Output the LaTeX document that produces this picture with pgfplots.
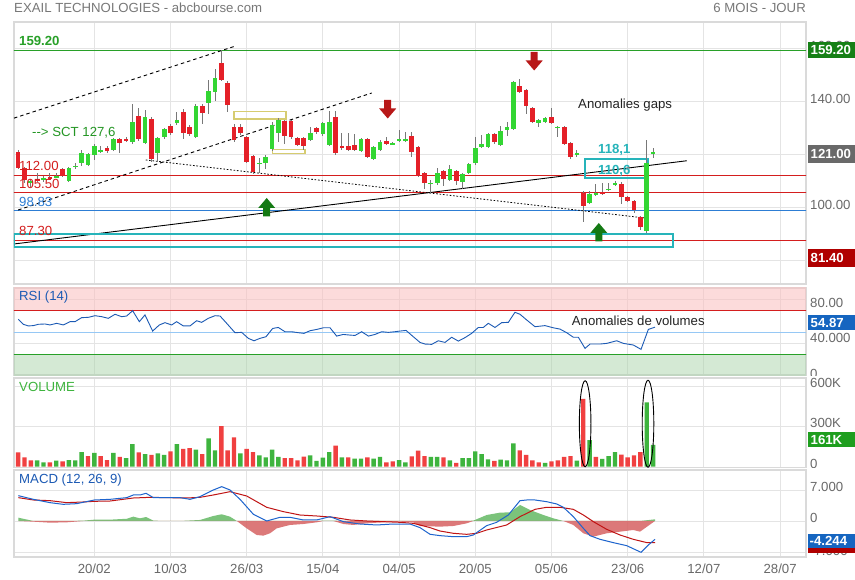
\documentclass[border=0pt]{standalone}
\usepackage{fontspec}
\setmainfont{Liberation Sans}
\usepackage{pgfplots}
\pgfplotsset{compat=1.18}
\usepackage{pgfplotstable}

\definecolor{cgreen}{RGB}{51,214,51}
\definecolor{cred}{RGB}{228,32,40}
\definecolor{wick}{RGB}{120,120,120}
\definecolor{vgreen}{RGB}{62,180,62}
\definecolor{vred}{RGB}{240,64,64}
\definecolor{gridc}{RGB}{228,228,228}
\definecolor{framec}{RGB}{218,218,218}
\definecolor{lblgray}{RGB}{105,105,105}
\definecolor{tealc}{RGB}{38,180,186}
\definecolor{khaki}{RGB}{214,204,112}
\definecolor{lgreen}{RGB}{40,160,40}
\definecolor{lred}{RGB}{212,30,30}
\definecolor{lblue}{RGB}{45,125,212}
\definecolor{midblue}{RGB}{150,200,245}
\definecolor{rsiblue}{RGB}{28,90,180}
\definecolor{pinkb}{RGB}{250,190,190}
\definecolor{greenb}{RGB}{170,212,170}
\definecolor{macdblue}{RGB}{30,100,205}
\definecolor{macdred}{RGB}{192,20,20}
\definecolor{histg}{RGB}{100,185,100}
\definecolor{histr}{RGB}{214,98,98}
\definecolor{boxgreen}{RGB}{22,128,22}
\definecolor{boxgray}{RGB}{105,105,105}
\definecolor{boxred}{RGB}{176,0,0}
\definecolor{boxblue}{RGB}{21,101,192}
\definecolor{boxvgreen}{RGB}{30,158,30}
\definecolor{arrred}{RGB}{184,24,24}
\definecolor{arrgreen}{RGB}{20,122,20}
\definecolor{titlegray}{RGB}{120,120,120}
\definecolor{txtdark}{RGB}{35,35,35}
\definecolor{sctgreen}{RGB}{36,150,36}

\newcommand\lf{\fontsize{13.2}{15}\selectfont}

% candles: index, open, high, low, close
\pgfplotstableread{
x o h l c
2 109.3 110.5 107.5 109.8
4 110.3 111.8 109.6 110.8
6 111.3 113.0 110.8 111.8
8 110.0 115 109.6 114.7
9 115.2 116.5 114.3 115.7
10 116.5 121.6 115.6 120.5
11 115.9 120.5 115.5 120.0
12 119.7 124 117.8 123.1
13 121.1 123 120.6 121.6
15 121.6 126 121 125.6
18 124.7 138.9 124 132.3
20 124.3 136.5 123.8 133.9
22 120.3 126.5 117 126
23 126.4 130 125.8 129.4
25 131.6 136 131 132.9
28 126.6 138.8 126 138.3
30 139.4 148 135 144
31 143.6 152 140 148.9
38 116.2 118.5 112.8 116.8
39 116.5 119.5 114.2 119
40 121.8 132.3 121.2 131
41 127.9 133.5 124.5 132.9
46 125.3 130.3 124.8 128.1
48 127.6 132 127 131.6
49 123.5 136.2 123 132.3
54 121.3 126 120.8 125.6
56 118.2 123 117.8 122.6
57 121.6 125.2 121.2 124.7
59 123.8 124.6 123.4 124.2
60 125 129.1 124.6 125.6
61 125.1 128.4 124.7 125.8
65 108.8 110.3 105.2 109.2
66 109 114.7 108.2 112.8
68 110.2 116 109.7 114.4
70 109.6 113 106.8 112.5
71 112.8 116.6 112.4 116.2
72 116.5 126.3 116 122.4
73 122.6 127.4 122.2 123.7
74 122.6 128 122.2 127.6
76 123.5 130.8 123 128.9
77 129.1 132.3 127 130.1
78 129.4 147.8 129 147.4
82 131.6 133.3 130.3 132.9
83 132.3 134.2 131.9 133.8
85 129.9 130.8 126.5 130.3
88 119.8 121.6 119 120.2
90 101.4 106 101 104.9
91 104.7 108.7 104.3 105.1
93 106.5 109.2 106.1 106.9
94 108.5 110 108.1 108.9
99 91.1 125.3 90.3 116.5
100 120 122.2 118.4 120.9
}\upc

\pgfplotstableread{
x o h l c
0 120.9 121.5 114.3 114.7
1 114.7 115.1 109.0 110.2
3 110.6 113.0 109.3 110.0
5 111.2 113.0 110.2 110.6
7 114.3 114.8 111.2 111.7
14 122.4 123 120.5 121.3
16 125.6 126 120.4 124.1
17 125.9 126.5 124.5 125
19 134.4 137.3 125 125.6
21 133.4 134 117.1 118.1
24 130.6 131.2 127.4 127.9
26 136 137 125.7 127.9
27 130.4 131 127 127.6
29 138.3 138.8 131.5 135.4
32 154.3 159.3 147.5 148
33 147 147.5 136 138.6
34 130.1 131.5 124.5 125.3
35 130.1 131.5 127.4 127.9
36 126.6 127 116.5 117.1
37 119.3 119.8 112.6 113.4
42 132.6 133 124 126.9
43 132.4 132.8 125.8 126.4
44 126.2 126.6 123 123.5
45 126.2 126.6 121.6 123.2
47 129.7 130.2 127.6 128.5
50 134.1 136.4 119.8 120.3
51 123.1 128 121.7 122.2
52 123.2 127.9 121.2 121.6
53 123.3 127.6 121.2 121.6
55 125.6 126 118.6 119
58 125.1 126.4 123.4 123.8
62 126.9 128.4 119 120.9
63 122.6 123 111.2 111.7
64 113 113.4 107 109
67 113.6 114 107.8 110.5
69 113.6 114 108.4 109.9
75 127.6 128 124 124.4
79 145.8 148.2 143.2 143.6
80 144.2 144.6 135 138.2
81 137.3 137.7 131.9 132.3
84 133.9 137.6 131.2 131.6
86 130.1 130.5 123.4 123.8
87 124.1 124.5 118 118.8
89 105.2 106 94.5 100.4
92 105.8 109.2 104.5 104.9
95 108.7 109.6 101.2 103.9
96 103.9 104.3 102 102.4
97 102.3 102.7 97.7 98.9
98 96.4 96.8 91.4 92.4
}\downc

\pgfplotstableread{
x r
0.04 62.1
0.82 57.5
1.61 56.0
2.40 56.3
3.19 57.5
4.24 57.8
5.02 56.9
6.07 58.4
7.12 56.9
8.17 59.9
8.96 59.9
10.01 63.6
11.06 63.9
12.11 65.4
13.16 64.5
14.21 63.0
15.26 66.7
16.31 64.5
17.10 65.1
18.04 70.0
19.09 59.9
19.98 66.1
21.19 51.3
22.24 56.9
23.13 59.0
24.18 56.9
24.97 59.9
26.02 56.0
27.07 56.0
28.12 60.8
28.91 59.3
29.96 63.0
31.01 65.4
31.80 65.1
32.85 58.4
34.16 49.8
35.21 50.1
36.26 44.6
37.15 42.4
38.09 44.6
39.04 46.1
40.09 53.7
40.98 54.6
42.03 50.7
43.08 50.7
44.13 49.8
45.02 49.2
45.97 51.6
47.02 52.8
48.07 54.3
49.12 54.3
50.17 46.7
51.22 48.2
52.27 47.6
53.06 47.3
54.11 50.7
55.16 46.7
56.20 48.2
57.26 50.7
58.30 50.1
59.35 50.7
60.14 51.3
61.09 51.9
62.24 46.1
63.29 40.9
64.08 39.4
65.13 39.1
66.18 42.4
67.23 40.9
68.28 45.6
69.33 42.1
70.38 45.3
71.43 49.2
72.48 54.6
73.26 54.6
74.05 58.4
75.10 54.6
76.15 59.0
77.20 59.3
78.25 68.5
79.04 66.7
80.09 61.5
81.40 55.3
82.98 56.3
84.29 54.3
85.34 53.1
86.39 49.8
87.44 45.6
88.23 45.6
89.28 35.4
90.07 39.4
91.64 39.4
92.69 40.0
94.27 42.4
95.32 40.0
96.89 38.5
98.10 34.5
99.25 52.8
100.30 54.9
}\rsi

\pgfplotstableread{
x v
3 48
4 33
6 45
8 50
9 48
10 110
12 103
15 103
17 65
18 170
20 95
22 100
23 88
25 170
28 128
30 213
31 123
35 100
38 85
39 70
40 128
41 73
46 85
47 43
48 68
49 110
51 70
53 60
54 60
56 60
57 73
60 50
61 33
65 73
66 73
68 48
70 65
71 65
72 115
73 95
74 55
76 53
77 48
78 175
83 28
88 45
90 200
92 58
93 80
94 110
99 483
100 163
}\volg

\pgfplotstableread{
x v
0 108
1 70
2 48
5 33
7 40
11 80
13 80
14 50
16 73
19 108
21 88
24 115
26 133
27 140
29 95
32 305
33 123
34 220
36 133
37 110
42 65
43 65
44 48
45 75
50 158
52 70
55 70
58 33
59 40
62 78
63 120
64 80
67 70
69 28
75 43
79 123
80 88
81 48
82 33
84 40
85 48
86 73
87 80
89 508
91 73
95 90
96 70
97 85
98 110
}\volr

\pgfplotstableread{
x m
0.04 5.72
2.40 4.89
5.02 4.14
7.12 3.76
9.22 3.91
12.01 4.74
14.48 4.89
17.10 5.27
18.15 5.87
19.20 5.87
20.15 6.25
21.30 5.27
23.40 5.27
25.50 5.27
27.07 4.89
28.65 5.49
30.75 7.00
32.06 7.75
33.37 7.00
34.95 4.89
37.05 1.51
39.15 0.00
41.25 0.83
42.82 0.83
44.92 0.23
47.02 0.23
49.12 0.98
51.22 -0.15
53.84 -0.68
56.46 -0.90
59.09 -0.68
61.72 -0.68
63.29 -1.5
64.87 -3.0
66.44 -3.31
68.54 -3.54
70.64 -3.54
71.69 -3.16
73.79 -1.05
75.36 -0.30
77.20 1.35
79.04 4.59
80.09 4.74
81.40 4.74
83.24 4.36
84.82 3.84
85.87 3.09
87.44 0.98
89.02 -1.66
90.07 -3.31
91.64 -4.14
93.74 -4.89
95.84 -5.57
98.10 -7.07
99.25 -5.42
100.30 -4.14
}\macd

\pgfplotstableread{
x s
0.04 5.27
2.40 4.74
5.02 4.59
7.65 4.14
10.27 4.29
12.01 4.44
14.48 4.51
18.15 5.19
20.78 5.34
23.40 5.27
26.55 5.19
28.65 5.34
30.75 5.87
33.37 6.62
36.00 5.64
39.15 3.09
41.77 2.11
44.40 1.35
47.02 1.13
49.64 0.83
52.27 0.23
54.89 0.00
57.51 -0.15
60.14 -0.30
62.24 -0.53
63.29 -0.90
64.87 -1.5
66.44 -2.26
68.54 -2.78
70.64 -3.01
72.22 -2.78
73.79 -2.03
76.94 -0.90
79.04 0.98
81.40 2.63
83.24 3.09
85.34 3.09
87.44 2.63
89.02 1.35
90.59 -0.15
92.69 -1.88
94.79 -3.16
96.89 -4.14
99.04 -4.89
100.30 -4.89
}\sig

\pgfplotstableread{
x h
0.04 0.75
2.40 -0.15
5.02 -0.38
7.65 -0.30
10.27 0.08
12.01 0.30
14.48 0.30
17.10 0.50
18.15 0.98
19.20 0.60
20.15 0.90
21.30 0.08
23.40 0.00
25.50 0.00
28.65 0.23
30.75 1.13
32.06 1.51
33.37 0.98
34.45 0.00
36.00 -1.66
37.57 -3.16
38.62 -3.31
39.67 -2.78
40.72 -1.66
42.82 -0.90
44.92 -0.68
47.02 -0.30
48.07 0.08
49.64 0.08
51.22 -0.68
52.79 -0.90
54.89 -0.53
57.51 -0.30
60.14 -0.15
62.24 -0.30
63.29 -1.13
66.44 -1.28
68.54 -1.13
70.64 -0.53
71.69 0.08
73.79 1.35
75.89 1.88
77.47 1.96
79.04 3.61
80.62 2.48
82.72 1.35
84.29 0.60
85.87 0.00
87.44 -0.90
89.02 -2.78
90.59 -3.54
92.69 -2.78
94.79 -2.41
96.89 -2.03
97.94 -2.41
100.30 0.38
}\hist

\pgfplotsset{panel/.style={scale only axis, width=792pt, xmin=-0.646, xmax=124.08,
  axis line style={draw=framec, line width=1.2pt}, major tick length=0pt,
  xtick={12,24,36,48,60,72,84,96,108,120}, xticklabels={}, yticklabels={},
  grid=major, major grid style={draw=gridc, line width=0.8pt}, anchor=north west},
  candle/.style={draw=none, mark=none, error bars/.cd, y dir=both, y explicit, error mark=none,
    error bar style={draw=#1}}}

\begin{document}
\begin{tikzpicture}
\useasboundingbox (0pt,0pt) rectangle (855pt,-580pt);
\fill[white] (0pt,0pt) rectangle (855pt,-580pt);

% ---------------- price panel ----------------
\begin{axis}[panel, at={(14pt,-22pt)}, height=262pt, ymin=70.96, ymax=169.9,
  ytick={80,100,120,140,160}]
  \draw[lgreen, line width=1pt] (axis cs:-1,159.2) -- (axis cs:125,159.2);
  \draw[lred, line width=1pt] (axis cs:-1,112) -- (axis cs:125,112);
  \draw[lred, line width=1pt] (axis cs:-1,105.5) -- (axis cs:125,105.5);
  \draw[lblue, line width=1pt] (axis cs:-1,98.83) -- (axis cs:125,98.83);
  \draw[lred, line width=1pt] (axis cs:-1,87.3) -- (axis cs:125,87.3);
  \draw[black, line width=0.9pt] (axis cs:-0.65,86.07) -- (axis cs:105.3,117.5);
  \draw[black, line width=0.9pt, dash pattern=on 3.5pt off 3pt] (axis cs:-0.65,133.6) -- (axis cs:34.2,160.8);
  \draw[black, line width=0.9pt, dash pattern=on 3.5pt off 3pt] (axis cs:0,98.9) -- (axis cs:55.7,143.1);
  \draw[black, line width=0.8pt, dash pattern=on 1.6pt off 1.8pt] (axis cs:20.1,117.8) -- (axis cs:99,95.8);
  \draw[khaki, line width=1.4pt] (axis cs:34.0,133.3) rectangle (axis cs:42.2,136.0);
  \draw[khaki, line width=1.4pt] (axis cs:40.1,120.3) rectangle (axis cs:45.2,121.8);
  \draw[tealc, line width=2pt] (axis cs:-0.65,84.93) rectangle (axis cs:103.2,89.84);
  \draw[tealc, line width=2pt] (axis cs:89.3,110.88) rectangle (axis cs:99.25,118.05);
  \addplot[candle={wick, line width=0.9pt}]
    table[x=x, y expr={(\thisrow{h}+\thisrow{l})/2}, y error expr={(\thisrow{h}-\thisrow{l})/2}] {\upc};
  \addplot[candle={wick, line width=0.9pt}]
    table[x=x, y expr={(\thisrow{h}+\thisrow{l})/2}, y error expr={(\thisrow{h}-\thisrow{l})/2}] {\downc};
  \addplot[candle={cgreen, line width=4.7pt}]
    table[x=x, y expr={(\thisrow{o}+\thisrow{c})/2}, y error expr={max(abs(\thisrow{c}-\thisrow{o})/2,0.25)}] {\upc};
  \addplot[candle={cred, line width=4.7pt}]
    table[x=x, y expr={(\thisrow{o}+\thisrow{c})/2}, y error expr={max(abs(\thisrow{c}-\thisrow{o})/2,0.25)}] {\downc};
\end{axis}

% ---------------- RSI panel ----------------
\begin{axis}[panel, at={(14pt,-288pt)}, height=87pt, ymin=11, ymax=90.8, ytick={40,80}]
  \fill[pinkb, fill opacity=0.55] (axis cs:-1,70) rectangle (axis cs:125,95);
  \fill[greenb, fill opacity=0.5] (axis cs:-1,5) rectangle (axis cs:125,30);
  \draw[lred, line width=0.8pt] (axis cs:-1,70) -- (axis cs:125,70);
  \draw[lgreen, line width=0.8pt] (axis cs:-1,30) -- (axis cs:125,30);
  \draw[midblue, line width=0.8pt] (axis cs:-1,50) -- (axis cs:125,50);
  \addplot[rsiblue, line width=0.9pt] table[x=x, y=r] {\rsi};
\end{axis}

% ---------------- Volume panel ----------------
\begin{axis}[panel, at={(14pt,-378pt)}, height=89.5pt, ymin=-6, ymax=665, ytick={300,600}]
  \addplot[ybar, bar width=4.4pt, bar shift=0pt, fill=vgreen, draw=none] table[x=x, y=v] {\volg};
  \addplot[ybar, bar width=4.4pt, bar shift=0pt, fill=vred, draw=none] table[x=x, y=v] {\volr};
  \draw[black, line width=0.9pt] (axis cs:89.3,322) ellipse [x radius=5.8pt, y radius=43pt];
  \draw[black, line width=0.9pt] (axis cs:99.2,322) ellipse [x radius=5.8pt, y radius=43.5pt];
\end{axis}

% ---------------- MACD panel ----------------
\begin{axis}[panel, at={(14pt,-470pt)}, height=87pt, ymin=-8.13, ymax=11.51, ytick={-7,0,7},
  xticklabels={20/02,10/03,26/03,15/04,04/05,20/05,05/06,23/06,12/07,28/07},
  xticklabel style={font=\lf, text=lblgray, anchor=base, yshift=-16.5pt}]
  \addplot[fill=histg, fill opacity=0.85, draw=none] table[x=x, y expr={max(\thisrow{h},0)}] {\hist} \closedcycle;
  \addplot[fill=histr, fill opacity=0.85, draw=none] table[x=x, y expr={min(\thisrow{h},0)}] {\hist} \closedcycle;
  \addplot[macdred, line width=1pt] table[x=x, y=s] {\sig};
  \addplot[macdblue, line width=1pt] table[x=x, y=m] {\macd};
\end{axis}

% ---------------- texts ----------------
\node[anchor=base west, text=titlegray, font=\lf, inner sep=0pt] at (14pt,-12.8pt) {EXAIL TECHNOLOGIES - abcbourse.com};
\node[anchor=base east, text=titlegray, font=\lf, inner sep=0pt] at (806pt,-12.8pt) {6 MOIS - JOUR};

\node[anchor=base west, text=lgreen, font=\lf\bfseries, inner sep=0pt] at (19pt,-46pt) {159.20};
\node[anchor=base west, text=sctgreen, font=\lf, inner sep=0pt] at (32pt,-136.8pt) {-{}-> SCT 127,6};
\node[anchor=base west, text=lred, font=\lf, inner sep=0pt] at (19pt,-171pt) {112.00};
\node[anchor=base west, text=lred, font=\lf, inner sep=0pt] at (19pt,-188.5pt) {105.50};
\node[anchor=base west, text=lblue, font=\lf, inner sep=0pt] at (19pt,-207pt) {98.83};
\node[anchor=base west, text=lred, font=\lf, inner sep=0pt] at (19pt,-235.5pt) {87.30};
\node[anchor=base west, text=txtdark, font=\lf, inner sep=0pt] at (578pt,-109pt) {Anomalies gaps};
\node[anchor=base west, text=tealc, font=\lf\bfseries, inner sep=0pt] at (598pt,-154pt) {118,1};
\node[anchor=base west, text=tealc, font=\lf\bfseries, inner sep=0pt] at (598pt,-175pt) {110,6};

\node[anchor=base west, text=rsiblue, font=\lf, inner sep=0pt] at (19pt,-300.5pt) {RSI (14)};
\node[anchor=base west, text=txtdark, font=\lf, inner sep=0pt] at (571.7pt,-325.2pt) {Anomalies de volumes};
\node[anchor=base west, text=vgreen, font=\lf, inner sep=0pt] at (19pt,-391.5pt) {VOLUME};
\node[anchor=base west, text=rsiblue, font=\lf, inner sep=0pt] at (19pt,-483.5pt) {MACD (12, 26, 9)};

% arrows
\fill[arrred] (384.2pt,-100pt) -- (391.2pt,-100pt) -- (391.2pt,-108.5pt) -- (396.2pt,-108.5pt) -- (387.7pt,-118.5pt) -- (379.2pt,-108.5pt) -- (384.2pt,-108.5pt) -- cycle;
\fill[arrred] (530.7pt,-52pt) -- (537.7pt,-52pt) -- (537.7pt,-60.5pt) -- (542.7pt,-60.5pt) -- (534.2pt,-70.5pt) -- (525.7pt,-60.5pt) -- (530.7pt,-60.5pt) -- cycle;
\fill[arrgreen] (266.7pt,-198pt) -- (275.2pt,-208pt) -- (270.2pt,-208pt) -- (270.2pt,-216.5pt) -- (263.2pt,-216.5pt) -- (263.2pt,-208pt) -- (258.2pt,-208pt) -- cycle;
\fill[arrgreen] (598.8pt,-223pt) -- (607.3pt,-233pt) -- (602.3pt,-233pt) -- (602.3pt,-241.5pt) -- (595.3pt,-241.5pt) -- (595.3pt,-233pt) -- (590.3pt,-233pt) -- cycle;

% right-side labels
\begin{scope}
\clip (805pt,-30pt) rectangle (855pt,-42.5pt);
\node[anchor=base west, text=lblgray, font=\lf, inner sep=0pt] at (810pt,-50.7pt) {160.00};
\end{scope}
\node[anchor=base west, text=lblgray, font=\lf, inner sep=0pt] at (810pt,-103.7pt) {140.00};
\node[anchor=base west, text=lblgray, font=\lf, inner sep=0pt] at (810pt,-209.5pt) {100.00};
\node[anchor=base west, text=lblgray, font=\lf, inner sep=0pt] at (810pt,-307.8pt) {80.00};
\node[anchor=base west, text=lblgray, font=\lf, inner sep=0pt] at (810pt,-342.8pt) {40.000};
\node[anchor=base west, text=lblgray, font=\lf, inner sep=0pt] at (810pt,-387.8pt) {600K};
\node[anchor=base west, text=lblgray, font=\lf, inner sep=0pt] at (810pt,-427.8pt) {300K};
\node[anchor=base west, text=lblgray, font=\lf, inner sep=0pt] at (810pt,-491.8pt) {7.000};
\node[anchor=base west, text=lblgray, font=\lf, inner sep=0pt] at (810pt,-522.8pt) {0};
\begin{scope}
\clip (805pt,-552.5pt) rectangle (855pt,-560pt);
\node[anchor=base west, text=lblgray, font=\lf, inner sep=0pt] at (810pt,-555pt) {-7.000};
\end{scope}
\begin{scope}
\clip (805pt,-360pt) rectangle (855pt,-375.5pt);
\node[anchor=base west, text=lblgray, font=\lf, inner sep=0pt] at (810pt,-378.5pt) {0};
\end{scope}
\begin{scope}
\clip (805pt,-450pt) rectangle (855pt,-467.5pt);
\node[anchor=base west, text=lblgray, font=\lf, inner sep=0pt] at (810pt,-468pt) {0};
\end{scope}

\fill[boxgreen] (808pt,-42.5pt) rectangle (855pt,-58.5pt);
\node[anchor=base west, text=white, font=\lf\bfseries, inner sep=0pt] at (810.5pt,-55pt) {159.20};
\fill[boxgray] (808pt,-145pt) rectangle (855pt,-163.3pt);
\node[anchor=base west, text=white, font=\lf\bfseries, inner sep=0pt] at (810.5pt,-158.7pt) {121.00};
\fill[boxred] (808pt,-249.3pt) rectangle (855pt,-266.7pt);
\node[anchor=base west, text=white, font=\lf\bfseries, inner sep=0pt] at (810.5pt,-262.6pt) {81.40};
\fill[boxblue] (808pt,-315.5pt) rectangle (855pt,-330.5pt);
\node[anchor=base west, text=white, font=\lf\bfseries, inner sep=0pt] at (810.5pt,-327.5pt) {54.87};
\fill[boxvgreen] (808pt,-432.3pt) rectangle (855pt,-447.3pt);
\node[anchor=base west, text=white, font=\lf\bfseries, inner sep=0pt] at (810.5pt,-444.3pt) {161K};
\fill[boxred] (808pt,-548pt) rectangle (855pt,-552.5pt);
\fill[boxblue] (808pt,-533.8pt) rectangle (855pt,-548.3pt);
\node[anchor=base west, text=white, font=\lf\bfseries, inner sep=0pt] at (809.5pt,-545.5pt) {-4.244};
\end{tikzpicture}
\end{document}
